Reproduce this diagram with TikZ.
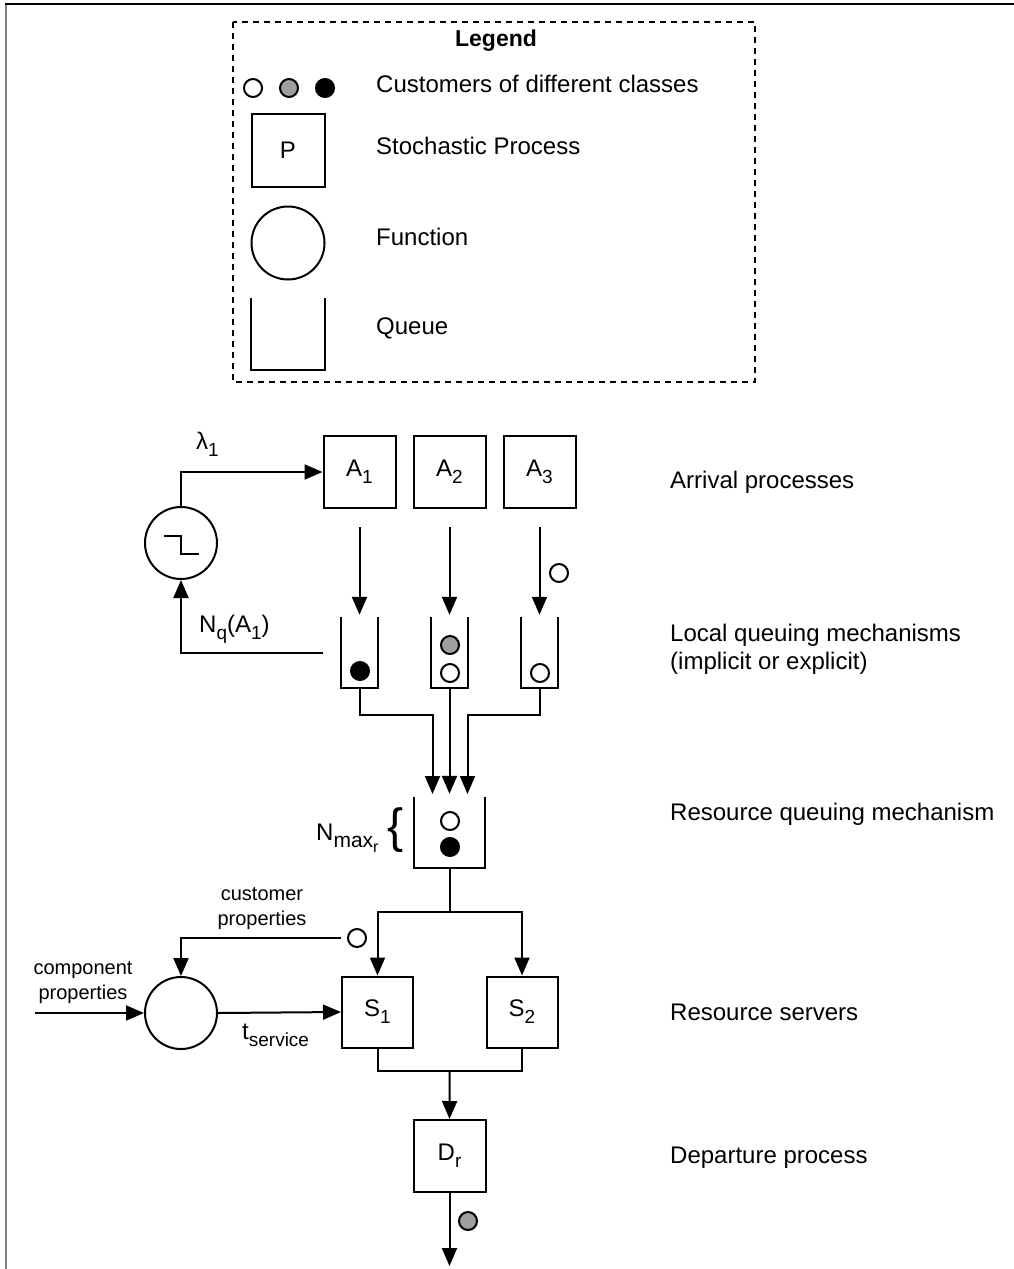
\documentclass[tikz,border=0pt]{standalone}
\usepackage{fontspec}
\setmainfont{Liberation Sans}
\usetikzlibrary{arrows.meta,calc}
\newcommand\sbs[1]{\raisebox{-7pt}{\fontsize{19}{19}\selectfont #1}}
\newcommand\msbs[1]{\raisebox{-7pt}{\fontsize{21}{21}\selectfont #1}}
\newcommand\ssbs[1]{\raisebox{-5pt}{\fontsize{16}{16}\selectfont #1}}
\begin{document}
\begin{tikzpicture}[x=1pt,y=-1pt,
  every node/.style={font=\fontsize{24}{29}\selectfont},
  pbox/.style={draw, line width=2pt, minimum size=72pt, inner sep=0pt},
  fnc/.style={draw, circle, line width=2pt, minimum size=72pt, inner sep=0pt},
  cust/.style={draw, circle, line width=2pt, minimum size=18pt, inner sep=0pt},
  cw/.style={cust, fill=white},
  cg/.style={cust, fill=gray!75},
  cb/.style={cust, fill=black},
  qslot/.style={minimum width=37pt, minimum height=71pt, inner sep=0pt},
  qline/.style={line width=2pt},
  wire/.style={line width=2pt},
  arr/.style={line width=2pt, -{Triangle[length=18pt,width=15pt]}},
  lbl/.style={anchor=mid west, inner sep=0pt},
  small/.style={font=\fontsize{20}{25}\selectfont, align=center, inner sep=0pt}
]
\useasboundingbox (0,0) rectangle (1014,1269);
% partial frame
\draw[gray, line width=2.5pt] (6,3) -- (6,1269);
\draw[line width=1.3pt] (5,4) -- (1014,4);

% ---------- legend ----------
\draw[line width=1.6pt, dash pattern=on 6pt off 5pt] (233,22) rectangle (755,382);
\node[font=\fontsize{23}{28}\selectfont\bfseries, anchor=mid] (legtitle) at (496,44) {Legend};
\node[cw] (lc1) at (253,88) {};
\node[cg] (lc2) at (289,88) {};
\node[cb] (lc3) at (325,88) {};
\node[lbl] (lt1) at (376,90) {Customers of different classes};
\node[pbox, minimum size=73pt] (lp) at (288,150) {P};
\node[lbl] (lt2) at (376,152) {Stochastic Process};
\node[fnc, minimum size=73pt] (lf) at (288,243) {};
\node[lbl] (lt3) at (376,243) {Function};
\node[qslot, minimum width=73pt, minimum height=72pt] (lq) at (288,334) {};
\draw[qline] (lq.north west) -- (lq.south west) -- (lq.south east) -- (lq.north east);
\node[lbl] (lt4) at (376,332) {Queue};

% ---------- arrival processes ----------
\node[pbox] (A1) at (359.5,472) {A\sbs{1}};
\node[pbox] (A2) at (449.5,472) {A\sbs{2}};
\node[pbox] (A3) at (539.5,472) {A\sbs{3}};
\node[lbl] (rl1) at (670,486) {Arrival processes};

% step function
\node[fnc] (f1) at (181,543) {};
\draw[line width=2pt] ($(f1.center)+(-17,-7)$) -- ++(17,0) -- ++(0,18) -- ++(18,0);
\draw[arr] (f1.north) |- (A1.west);
\node[anchor=mid west, inner sep=0pt] (lam) at (196,447) {λ\sbs{1}};

% local queues
\node[qslot] (q1) at (359.5,652.5) {};
\node[qslot] (q2) at (449.5,652.5) {};
\node[qslot] (q3) at (539.5,652.5) {};
\foreach \q in {q1,q2,q3}
  \draw[qline] (\q.north west) -- (\q.south west) -- (\q.south east) -- (\q.north east);
\node[cb] (c11) at (360,671) {};
\node[cg] (c21) at (450,645) {};
\node[cw] (c22) at (450,673) {};
\node[cw] (c31) at (540,673) {};
\node[lbl] (rl2a) at (670,639) {Local queuing mechanisms};
\node[lbl] (rl2b) at (670,667) {(implicit or explicit)};

\draw[arr, shorten <=18pt, shorten >=2pt] (A1.south) -- (q1.north);
\draw[arr, shorten <=18pt, shorten >=2pt] (A2.south) -- (q2.north);
\draw[arr, shorten <=18pt, shorten >=2pt] (A3.south) -- (q3.north);
\node[cw] (c3in) at (559,573) {};

% feedback N_q(A_1)
\draw[arr, shorten <=18pt] (q1.west) -| (f1.south);
\node[anchor=mid west, inner sep=0pt] (nq) at (199,630) {N\sbs{q}(A\sbs{1})};

% resource queue
\node[qslot, minimum width=71pt] (rq) at (449.5,832.5) {};
\draw[qline] (rq.north west) -- (rq.south west) -- (rq.south east) -- (rq.north east);
\node[cw] (r1) at (450,821) {};
\node[cb] (r2) at (450,847) {};
\coordinate (in1) at (432.5,797);
\coordinate (in3) at (467.5,797);
\draw[arr, shorten >=3pt] (q1.south) -- ++(0,27) -| (in1);
\draw[arr, shorten >=3pt] (q2.south) -- (rq.north);
\draw[arr, shorten >=3pt] (q3.south) -- ++(0,27) -| (in3);
\node[anchor=mid west, inner sep=0pt] (nmax) at (316,838) {N\msbs{max\ssbs{r}}};
\node[inner sep=0pt, font=\fontsize{48}{48}\selectfont] (brace) at (396,830) {\{};
\node[lbl] (rl3) at (670,818) {Resource queuing mechanism};

% servers
\node[pbox, minimum size=71pt] (S1) at (377.5,1012) {S\sbs{1}};
\node[pbox, minimum size=71pt] (S2) at (522,1012) {S\sbs{2}};
\draw[arr] (rq.south) -- ++(0,44) -| (S1.north);
\draw[arr] (rq.south) -- ++(0,44) -| (S2.north);
\node[lbl] (rl4) at (670,1018) {Resource servers};

% service time function
\node[fnc] (f2) at (181,1013) {};
\node[cw] (cp) at (357,938) {};
\draw[arr, shorten <=6pt] (cp.west) -| (f2.north);
\node[small] (cpl) at (262,909) {customer\\properties};
\coordinate (cin) at (35,1013);
\draw[arr] (cin) -- (f2.west);
\node[small] (cml) at (83,983) {component\\properties};
\draw[arr] (f2.east) -- (S1.west);
\node[anchor=mid west, inner sep=0pt] (ts) at (242,1037) {t\sbs{service}};

% departure
\node[pbox] (D) at (449.5,1156) {D\sbs{r}};
\draw[wire] (S1.south) -- ++(0,22) -| (S2.south);
\draw[arr] ($(S1.south)!0.5!(S2.south)+(0,22)$) -- (D.north);
\coordinate (out) at (449.5,1266);
\draw[arr] (D.south) -- (out);
\node[cg] (cd) at (468,1221) {};
\node[lbl] (rl5) at (670,1161) {Departure process};
\end{tikzpicture}
\end{document}
